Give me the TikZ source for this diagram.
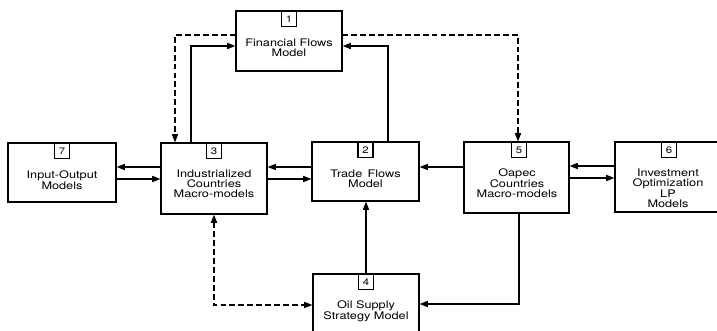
\documentclass[tikz,border=0pt]{standalone}
\usepackage{fontspec}
\setmainfont{TeX Gyre Heros}[FakeStretch=1.22]
\usetikzlibrary{arrows.meta}
\begin{document}
\begin{tikzpicture}[x=0.03cm, y=-0.03cm,
  box/.style={draw, line width=1pt, inner sep=0pt, anchor=center},
  numbox/.style={draw, line width=0.9pt, inner sep=0pt, anchor=north,
    minimum width=15*0.03cm, minimum height=16*0.03cm,
    font=\fontsize{8}{8}\selectfont},
  lbl/.style={align=center, inner sep=0pt, font=\fontsize{8.9}{8.4}\selectfont},
  tip/.style={-{Triangle[length=7pt,width=5.2pt]}},
  arr/.style={line width=1pt, tip},
  darr/.style={arr, dash pattern=on 5pt off 2.6pt}]
  \path[use as bounding box] (0,0) rectangle (717,331);
  \clip (0,0) rectangle (717,331);
  \fill[white] (0,0) rectangle (717,331);

  % model boxes
  \node[box, minimum width=106*0.03cm, minimum height=60*0.03cm] (b1) at (289,41) {};
  \node[box, minimum width=107*0.03cm, minimum height=59*0.03cm] (b2) at (365.5,171.5) {};
  \node[box, minimum width=106*0.03cm, minimum height=71*0.03cm] (b3) at (214,178.5) {};
  \node[box, minimum width=106*0.03cm, minimum height=60*0.03cm] (b4) at (366,304) {};
  \node[box, minimum width=105*0.03cm, minimum height=71*0.03cm] (b5) at (516.5,177.5) {};
  \node[box, minimum width=105*0.03cm, minimum height=70*0.03cm] (b6) at (667.5,177) {};
  \node[box, minimum width=108*0.03cm, minimum height=59*0.03cm] (b7) at (62,172.5) {};

  % number tags
  \node[numbox] (n1) at (b1.north) {1};
  \node[numbox] (n2) at (b2.north) {2};
  \node[numbox] (n3) at (b3.north) {3};
  \node[numbox] (n4) at (b4.north) {4};
  \node[numbox] (n5) at (b5.north -| 519,0) {5};
  \node[numbox] (n6) at (b6.north -| 669,0) {6};
  \node[numbox] (n7) at (b7.north) {7};

  % box texts
  \node[lbl] (t1) at (289,48) {Financial Flows\\Model};
  \node[lbl] (t2) at (365.5,179) {Trade\enspace Flows\\Model};
  \node[lbl] (t3) at (214,184) {Industrialized\\Countries\\Macro-models};
  \node[lbl] (t4) at (366,311.5) {Oil Supply\\Strategy Model};
  \node[lbl] (t5) at (517,183) {Oapec\\Countries\\Macro-models};
  \node[lbl] (t6) at (668,188) {Investment\\Optimization\\LP\\Models};
  \node[lbl] (t7) at (62,180) {Input-Output\\Models};

  % horizontal exchanges
  \draw[arr] (b3.west |- 0,167) -- (b7.east |- 0,167);
  \draw[arr] (b7.east |- 0,179) -- (b3.west |- 0,179);
  \draw[arr] (b2.west |- 0,167) -- (b3.east |- 0,167);
  \draw[arr] (b3.east |- 0,179) -- (b2.west |- 0,179);
  \draw[arr] (b5.west |- 0,167) -- (b2.east |- 0,167);
  \draw[arr] (b6.west |- 0,166) -- (b5.east |- 0,166);
  \draw[arr] (b5.east |- 0,178) -- (b6.west |- 0,178);

  % feeds into the financial flows model
  \draw[arr] (b3.north -| 191,0) |- (b1.west |- 0,46);
  \draw[arr] (b2.north -| 388,0) |- (b1.east |- 0,46);

  % dashed feedback from the financial flows model
  \draw[darr] (b1.west |- 0,35) -| (b3.north -| 175,0);
  \draw[darr] (b1.east |- 0,35) -| (b5.north -| 518,0);

  % oil supply links
  \draw[arr] (b4.north) -- (b2.south -| b4.north);
  \draw[arr] (b5.south -| 519,0) |- (b4.east |- 0,304);
  \draw[darr, {Triangle[length=7pt,width=5.2pt]}-{Triangle[length=7pt,width=5.2pt]}]
    (b3.south -| 214,0) |- (b4.west |- 0,305);
\end{tikzpicture}
\end{document}
